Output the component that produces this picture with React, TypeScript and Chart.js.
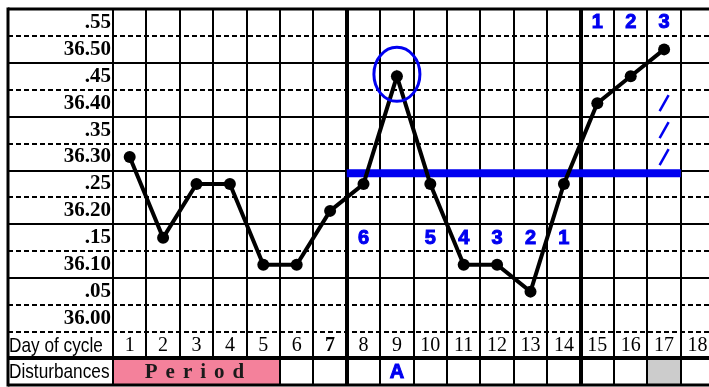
import React, { useEffect, useRef } from 'react';
import { Chart, registerables } from 'chart.js';

Chart.register(...registerables);

// ---- data ----
const days = [1, 2, 3, 4, 5, 6, 7, 8, 9, 10, 11, 12, 13, 14, 15, 16, 17, 18];
const temperatures: (number | null)[] = [
  36.30, 36.15, 36.25, 36.25, 36.10, 36.10, 36.20, 36.25, 36.45,
  36.25, 36.10, 36.10, 36.05, 36.25, 36.40, 36.45, 36.50, null,
];
const tempTicks = [36.00, 36.05, 36.10, 36.15, 36.20, 36.25, 36.30, 36.35, 36.40, 36.45, 36.50, 36.55];
const boldDays = [7];
const thickAfterDays = [7, 14];

const coverLineValue = 36.27;
const coverLineDays = [7.5, 17.5];

const countdownDays = [8, 10, 11, 12, 13, 14];
const countdownLabels = ['6', '5', '4', '3', '2', '1'];
const countdownValue = 36.15;

const countupDays = [15, 16, 17];
const countupLabels = ['1', '2', '3'];
const countupValue = 36.55;

const slashDay = 17;
const slashValues = [36.40, 36.35, 36.30];

const circledDay = 9;
const circledValue = 36.45;

const periodDays = [1, 5];
const periodLabel = 'Period';
const markDay = 9;
const markLabel = 'A';
const greyDays = [17];

const rowLabels = ['Day of cycle', 'Disturbances'];

const BLUE = '#0000f0';
const PINK = '#f4819b';

function formatTemp(v: number): string {
  const c = Math.round(v * 100);
  if (c % 10 === 0) return v.toFixed(2);
  return '.' + String(c % 100).padStart(2, '0');
}

const tablePlugin = {
  id: 'bbtTable',
  beforeDatasetsDraw(chart: any) {
    const { ctx, chartArea, scales } = chart;
    const xs = scales.x;
    const ys = scales.y;
    const W = chart.width;
    const left = 8;
    const top = chartArea.top;
    const dayTop = chartArea.bottom;
    const dayBottom = dayTop + 26;
    const distBottom = dayBottom + 27;
    const px = (d: number) => Math.round(xs.getPixelForValue(d));
    const py = (v: number) => Math.round(ys.getPixelForValue(v));

    ctx.save();
    // cell fills
    ctx.fillStyle = PINK;
    ctx.fillRect(px(periodDays[0] - 0.5), dayBottom, px(periodDays[1] + 0.5) - px(periodDays[0] - 0.5), distBottom - dayBottom);
    ctx.fillStyle = '#cccccc';
    greyDays.forEach((d) => {
      ctx.fillRect(px(d - 0.5), dayBottom, px(d + 0.5) - px(d - 0.5), distBottom - dayBottom);
    });

    ctx.strokeStyle = '#000';
    // horizontal lines
    for (let k = 0; k <= tempTicks.length; k++) {
      const v = tempTicks[0] - 0.025 + 0.05 * k;
      const y = py(v);
      const dashed = k % 2 === 1 || k === 0;
      ctx.setLineDash(dashed ? [5, 3] : []);
      ctx.lineWidth = k === tempTicks.length ? 3 : 2;
      ctx.beginPath();
      ctx.moveTo(left, y);
      ctx.lineTo(W, y);
      ctx.stroke();
    }
    ctx.setLineDash([]);

    // vertical lines
    ctx.lineWidth = 3;
    ctx.beginPath();
    ctx.moveTo(left, top - 1.5);
    ctx.lineTo(left, distBottom + 1.5);
    ctx.stroke();
    for (let i = 0; i < days.length; i++) {
      const b = days[i] - 0.5;
      const x = px(b);
      const insideMerged = b > periodDays[0] - 0.5 && b < periodDays[1] + 0.5;
      ctx.lineWidth = thickAfterDays.includes(days[i] - 1) ? 4 : 2;
      ctx.beginPath();
      ctx.moveTo(x, top);
      ctx.lineTo(x, insideMerged ? dayBottom : distBottom);
      ctx.stroke();
    }

    ctx.lineWidth = 4;
    ctx.beginPath();
    ctx.moveTo(left, dayBottom);
    ctx.lineTo(W, dayBottom);
    ctx.stroke();
    ctx.lineWidth = 3;
    ctx.beginPath();
    ctx.moveTo(left, distBottom);
    ctx.lineTo(W, distBottom);
    ctx.stroke();

    // row labels (narrow sans)
    ctx.fillStyle = '#000';
    ctx.font = '21px "Liberation Sans", Arial, sans-serif';
    ctx.textBaseline = 'middle';
    ctx.textAlign = 'left';
    const rowYs = [(dayTop + dayBottom) / 2 + 1, (dayBottom + distBottom) / 2 + 1];
    rowLabels.forEach((t, i) => {
      ctx.save();
      ctx.translate(left + 1, rowYs[i]);
      ctx.scale(0.82, 1);
      ctx.fillText(t, 0, 0);
      ctx.restore();
    });

    // Period text with wide letter spacing
    ctx.font = 'bold 21px "Liberation Serif", "Times New Roman", serif';
    ctx.fillStyle = '#1a1a1a';
    const chars = periodLabel.split('');
    const gap = 8;
    const widths = chars.map((c) => ctx.measureText(c).width);
    const total = widths.reduce((a, b) => a + b, 0) + gap * (chars.length - 1);
    let cx = (px(periodDays[0] - 0.5) + px(periodDays[1] + 0.5)) / 2 - total / 2 - 2;
    chars.forEach((c, i) => {
      ctx.fillText(c, cx, rowYs[1]);
      cx += widths[i] + gap;
    });

    // A mark
    ctx.fillStyle = BLUE;
    ctx.strokeStyle = BLUE;
    ctx.lineWidth = 1;
    ctx.font = 'bold 20px "Liberation Sans", Arial, sans-serif';
    ctx.textAlign = 'center';
    ctx.fillText(markLabel, px(markDay), rowYs[1]);
    ctx.strokeText(markLabel, px(markDay), rowYs[1]);
    ctx.restore();
  },
  afterDatasetsDraw(chart: any) {
    const { ctx, scales } = chart;
    const xs = scales.x;
    const ys = scales.y;
    const px = (d: number) => xs.getPixelForValue(d);
    const py = (v: number) => ys.getPixelForValue(v);
    ctx.save();
    ctx.fillStyle = BLUE;
    ctx.strokeStyle = BLUE;
    ctx.font = 'bold 20px "Liberation Sans", Arial, sans-serif';
    ctx.textAlign = 'center';
    ctx.textBaseline = 'middle';
    ctx.lineWidth = 1;
    countdownDays.forEach((d, i) => {
      ctx.fillText(countdownLabels[i], px(d), py(countdownValue) + 1);
      ctx.strokeText(countdownLabels[i], px(d), py(countdownValue) + 1);
    });
    countupDays.forEach((d, i) => {
      ctx.fillText(countupLabels[i], px(d), py(countupValue));
      ctx.strokeText(countupLabels[i], px(d), py(countupValue));
    });
    // slashes
    ctx.lineWidth = 2.5;
    slashValues.forEach((v) => {
      const x = px(slashDay);
      const y = py(v);
      ctx.beginPath();
      ctx.moveTo(x - 4.5, y + 8);
      ctx.lineTo(x + 4.5, y - 8);
      ctx.stroke();
    });
    // circle around the peak
    ctx.lineWidth = 3;
    ctx.beginPath();
    ctx.ellipse(px(circledDay), py(circledValue) - 2, 23, 27, 0, 0, Math.PI * 2);
    ctx.stroke();
    ctx.restore();
  },
};

export default function App() {
  const ref = useRef<HTMLCanvasElement | null>(null);
  useEffect(() => {
    if (!ref.current) return;
    const chart = new Chart(ref.current, {
      type: 'line',
      data: {
        datasets: [
          {
            label: 'Cover line',
            data: coverLineDays.map((d) => ({ x: d, y: coverLineValue })),
            borderColor: BLUE,
            backgroundColor: BLUE,
            borderWidth: 8,
            borderCapStyle: 'butt',
            pointRadius: 0,
            order: 2,
          },
          {
            label: 'Temperature',
            data: days.map((d, i) => ({ x: d, y: temperatures[i] })),
            borderColor: '#000',
            backgroundColor: '#000',
            borderWidth: 4,
            pointRadius: 6,
            pointBorderWidth: 0,
            pointBackgroundColor: '#000',
            spanGaps: false,
            order: 1,
          },
        ] as any,
      },
      options: {
        animation: false,
        responsive: false,
        devicePixelRatio: 1,
        layout: { autoPadding: false, padding: { left: 8, top: 9, right: 0, bottom: 29 } },
        plugins: { legend: { display: false }, tooltip: { enabled: false } },
        scales: {
          x: {
            type: 'linear',
            min: 0.5,
            max: 18.344,
            grid: { display: false, drawTicks: false },
            border: { display: false },
            afterBuildTicks: (s: any) => {
              s.ticks = days.map((v) => ({ value: v }));
            },
            afterFit: (s: any) => {
              s.height = 26;
              s.paddingLeft = 0;
              s.paddingRight = 0;
              s.paddingTop = 0;
              s.paddingBottom = 0;
            },
            ticks: {
              autoSkip: false,
              maxRotation: 0,
              minRotation: 0,
              padding: 2,
              color: '#000',
              font: (c: any) => ({
                family: '"Liberation Serif", "Times New Roman", serif',
                size: 20,
                weight: c && c.tick && boldDays.includes(c.tick.value) ? 'bold' : 'normal',
              }),
              callback: (v: any) => String(v),
            },
          },
          y: {
            type: 'linear',
            min: tempTicks[0] - 0.025,
            max: tempTicks[tempTicks.length - 1] + 0.025,
            grid: { display: false, drawTicks: false },
            border: { display: false },
            afterBuildTicks: (s: any) => {
              s.ticks = tempTicks.map((v) => ({ value: v }));
            },
            afterFit: (s: any) => {
              s.width = 105;
              s.paddingLeft = 0;
              s.paddingRight = 0;
              s.paddingTop = 0;
              s.paddingBottom = 0;
            },
            ticks: {
              padding: 2,
              color: '#000',
              font: { family: '"Liberation Serif", "Times New Roman", serif', size: 21, weight: 'bold' },
              callback: (v: any) => formatTemp(Number(v)),
            },
          },
        },
      } as any,
      plugins: [tablePlugin],
    });
    return () => chart.destroy();
  }, []);
  return (
    <div style={{ position: 'fixed', left: 0, top: 0, width: 709, height: 387, background: '#fff' }}>
      <canvas ref={ref} width={709} height={387} style={{ display: 'block', width: 709, height: 387 }} />
    </div>
  );
}
